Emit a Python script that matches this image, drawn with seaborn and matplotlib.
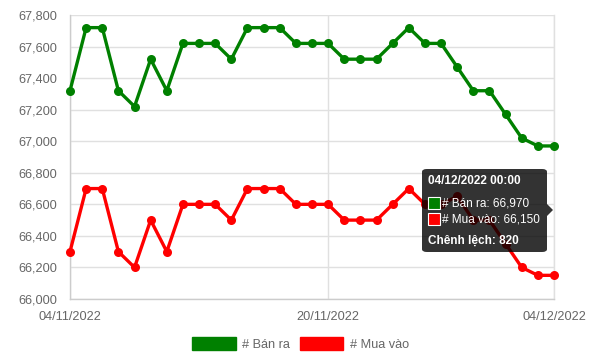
import matplotlib
matplotlib.use("Agg")
import matplotlib.pyplot as plt
import matplotlib.dates as mdates
from matplotlib.patches import Patch, FancyBboxPatch, Polygon, Rectangle
import seaborn as sns
import pandas as pd
import numpy as np

dates = pd.date_range("2022-11-04", "2022-12-04", freq="D")
ban_ra = [67320, 67720, 67720, 67320, 67220, 67520, 67320, 67620, 67620, 67620,
          67520, 67720, 67720, 67720, 67620, 67620, 67620, 67520, 67520, 67520,
          67620, 67720, 67620, 67620, 67470, 67320, 67320, 67170, 67020, 66970, 66970]
mua_vao = [66300, 66700, 66700, 66300, 66200, 66500, 66300, 66600, 66600, 66600,
           66500, 66700, 66700, 66700, 66600, 66600, 66600, 66500, 66500, 66500,
           66600, 66700, 66600, 66600, 66650, 66500, 66500, 66350, 66200, 66150, 66150]
series_names = ["# Bán ra", "# Mua vào"]
colors = ["#008000", "#ff0000"]
xtick_dates = ["2022-11-04", "2022-11-20", "2022-12-04"]
yticks = list(range(66000, 67801, 200))

df = pd.concat([
    pd.DataFrame({"date": dates, "value": ban_ra, "series": series_names[0]}),
    pd.DataFrame({"date": dates, "value": mua_vao, "series": series_names[1]}),
])

sns.set_style("white")
plt.rcParams['font.family'] = ['Liberation Sans', 'DejaVu Sans']

W, H = 601, 363
fig = plt.figure(figsize=(W / 100, H / 100), dpi=100)
ax = fig.add_axes([70 / W, 1 - 299 / H, (554 - 70) / W, (299 - 15) / H])

sns.lineplot(data=df, x="date", y="value", hue="series", palette=colors,
             marker="o", markersize=6.5, markeredgewidth=0, linewidth=2.4,
             legend=False, ax=ax, zorder=3)
for ln in ax.lines:
    ln.set_clip_on(False)

ax.set_xlim(dates[0], dates[-1])
ax.set_ylim(66000, 67800)
ax.set_yticks(yticks)
ax.set_yticklabels([f"{v:,}" for v in yticks])
ax.set_xticks(pd.to_datetime(xtick_dates))
ax.xaxis.set_major_formatter(mdates.DateFormatter("%d/%m/%Y"))
ax.set_xlabel("")
ax.set_ylabel("")
ax.grid(True, color="#e0e0e0", linewidth=1)
ax.tick_params(axis="both", length=6, color="#e0e0e0", labelsize=9.2,
               labelcolor="#666666", pad=3)
for s in ["left", "bottom"]:
    ax.spines[s].set_color("#cccccc")
    ax.spines[s].set_linewidth(1)
ax.spines["top"].set_visible(False)
ax.spines["right"].set_color("#e0e0e0")
ax.spines["right"].set_linewidth(1)

# legend
handles = [Patch(facecolor=c, edgecolor=c, label=n) for c, n in zip(colors, series_names)]
fig.legend(handles=handles, loc="center", bbox_to_anchor=(0.5, 1 - 344 / H), ncol=2,
           frameon=False, fontsize=9.2, handlelength=3.4, handleheight=1.15,
           columnspacing=0.8, handletextpad=0.5, labelcolor="#666666")

# tooltip
def fx(px):
    return px / W

def fy(py):
    return 1 - py / H

box = FancyBboxPatch((fx(422), fy(252)), fx(547) - fx(422), fy(169) - fy(252),
                     boxstyle="round,pad=0,rounding_size=0.008",
                     transform=fig.transFigure, facecolor=(0, 0, 0, 0.8),
                     edgecolor="none", zorder=10)
fig.patches.append(box)
arrow = Polygon([(fx(547), fy(204)), (fx(553), fy(210)), (fx(547), fy(216))],
                closed=True, transform=fig.transFigure, facecolor=(0, 0, 0, 0.8),
                edgecolor="none", zorder=10)
fig.patches.append(arrow)
fs = 8.5
fig.text(fx(428), fy(181), "04/12/2022 00:00", color="white", fontsize=fs,
         fontweight="bold", va="center", ha="left", zorder=11)
for i, (c, n, v) in enumerate(zip(colors, series_names, [ban_ra[-1], mua_vao[-1]])):
    yy = 203 + i * 16
    sq = Rectangle((fx(428), fy(yy + 6)), fx(12), 12 / H, transform=fig.transFigure,
                   facecolor=c, edgecolor="white", linewidth=0.8, zorder=11)
    fig.patches.append(sq)
    fig.text(fx(442), fy(yy), f"{n}: {v:,}", color="white", fontsize=fs,
             va="center", ha="left", zorder=11)
fig.text(fx(428), fy(241), f"Chênh lệch: {ban_ra[-1] - mua_vao[-1]:,}", color="white",
         fontsize=fs, fontweight="bold", va="center", ha="left", zorder=11)

fig.savefig("out.png", dpi=100)
